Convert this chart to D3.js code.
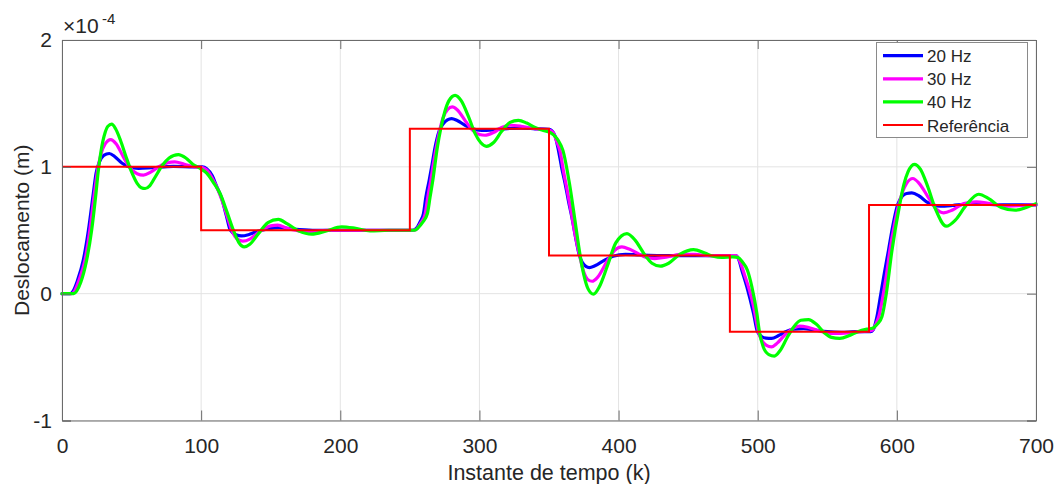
<!DOCTYPE html>
<html>
<head>
<meta charset="utf-8">
<script src="https://cdn.jsdelivr.net/npm/d3@7"></script>
<style>
  html, body { margin: 0; padding: 0; background: #fff; }
  svg { display: block; }
  text { font-family: "Liberation Sans", Arial, Helvetica, sans-serif; fill: #262626; }
</style>
</head>
<body>
<svg id="chart" width="1057" height="484"></svg>
<script>
// ---------------- data ----------------
const xTicks = [0, 100, 200, 300, 400, 500, 600, 700];
const yTicks = [-1, 0, 1, 2];
const seriesNames = ["20 Hz", "30 Hz", "40 Hz", "Referência"];

// reference step signal (k, value x1e-4)
const refK = [0, 100, 250, 350, 480, 580, 700];
const refV = [1, 0.5, 1.3, 0.3, -0.3, 0.7, 0.7];

// 20 Hz response
const hz20 = [
[0,0],[6,0],[8,0.02],[11,0.1],[15.3,0.264],[19,0.5],[22.5,0.79],[24.5,0.95],[27,1.04],[30,1.09],[34,1.105],[38,1.08],[43,1.03],[48,1.0],[55,0.987],[65,0.993],[80,1.004],[95,1.0],
[101,1.0],[104,0.985],[108,0.93],[111,0.85],[114.8,0.75],[118,0.62],[121,0.5],[125,0.465],[129,0.455],[134,0.465],[140,0.49],[148,0.51],[156,0.52],[165,0.51],[180,0.5],[252,0.5],
[255,0.52],[257.5,0.57],[259.8,0.632],[261.5,0.76],[263.9,0.894],[266,1.02],[268.2,1.157],[271,1.28],[274,1.34],[277,1.37],[280,1.38],[284,1.365],[290,1.325],[295,1.3],[301.7,1.288],[310,1.292],[320,1.302],[330,1.305],[340,1.3],[350,1.295],
[352,1.285],[354.5,1.24],[356.8,1.13],[359,1.0],[361.6,0.868],[364,0.73],[366.4,0.605],[369,0.45],[371.9,0.3],[374,0.245],[376.5,0.215],[379,0.206],[383,0.22],[390,0.265],[396,0.295],[405,0.31],[415,0.305],[430,0.3],[484,0.3],
[486,0.28],[488.6,0.185],[492.2,0.054],[497,-0.156],[499.8,-0.3],[503,-0.34],[506,-0.35],[510,-0.353],[515,-0.33],[520,-0.3],[526,-0.28],[533,-0.275],[540,-0.285],[550,-0.3],[560,-0.305],[570,-0.3],[581,-0.3],
[583,-0.285],[585.7,-0.18],[588.5,0],[591,0.16],[594,0.343],[597,0.53],[600.5,0.7],[604,0.77],[607,0.79],[610.8,0.794],[616,0.77],[622,0.72],[626,0.7],[631,0.69],[640,0.695],[650,0.705],[660,0.705],[680,0.7],[700,0.7]
];

// 30 Hz response
const hz30 = [
[0,0],[7,0],[9,0.02],[12,0.1],[16.5,0.264],[20,0.5],[23.3,0.79],[25.5,0.97],[28,1.1],[31,1.18],[35,1.215],[39,1.18],[44,1.08],[49,0.99],[54,0.945],[58.5,0.934],[64,0.96],[71,1.01],[76,1.033],[81,1.039],[88,1.02],[95,1.0],
[101,0.995],[104,0.975],[108,0.91],[112,0.82],[115.5,0.72],[119,0.6],[122,0.5],[126,0.43],[130,0.414],[135,0.43],[142,0.49],[150,0.535],[155,0.54],[162,0.515],[170,0.495],[178,0.49],[190,0.5],[252.5,0.5],
[255,0.51],[258,0.56],[261,0.63],[263,0.77],[265,0.89],[267,1.03],[269,1.157],[271.5,1.29],[274,1.39],[277,1.45],[280.5,1.472],[284,1.45],[290,1.36],[295,1.29],[300,1.255],[304,1.249],[310,1.27],[316,1.31],[322,1.328],[330,1.32],[340,1.3],[350,1.29],
[353,1.27],[355.5,1.2],[358,1.12],[360.5,0.96],[363,0.82],[366,0.64],[368.5,0.48],[372,0.3],[375,0.17],[378,0.11],[381,0.098],[385,0.13],[392,0.26],[397,0.34],[402.4,0.369],[408,0.35],[415,0.31],[420,0.285],[426,0.277],[435,0.29],[445,0.31],[455,0.31],[465,0.3],[484.5,0.3],
[487,0.26],[490.5,0.15],[494,0.03],[497,-0.1],[500.5,-0.3],[503,-0.37],[506,-0.405],[510,-0.419],[514,-0.39],[520,-0.32],[526,-0.27],[530,-0.256],[536,-0.265],[543,-0.29],[550,-0.31],[555,-0.314],[565,-0.31],[578,-0.295],[582,-0.29],
[584.5,-0.25],[587,-0.18],[590,-0.02],[592.5,0.15],[595,0.343],[598,0.53],[601.3,0.7],[604,0.8],[607,0.87],[611.5,0.908],[616,0.87],[622,0.77],[628,0.67],[633.6,0.637],[640,0.66],[648,0.71],[657,0.724],[667,0.71],[680,0.69],[690,0.695],[700,0.7]
];

// 40 Hz response
const hz40 = [
[0,0],[8.5,0],[10.5,0.02],[13.5,0.09],[17.7,0.264],[21.3,0.5],[24.4,0.79],[26,0.96],[28,1.12],[31,1.27],[33,1.32],[35.7,1.336],[38.5,1.3],[42,1.21],[46,1.08],[50,0.96],[54,0.87],[57,0.835],[59.7,0.829],[63,0.85],[67,0.92],[72,1.01],[77,1.07],[83.6,1.097],[89,1.07],[94,1.02],[99,0.99],
[104,0.95],[108.6,0.88],[113.6,0.79],[118.4,0.65],[123.2,0.5],[127,0.405],[131,0.369],[135,0.39],[141,0.47],[148,0.56],[155.5,0.585],[162,0.55],[170,0.495],[179.5,0.469],[190,0.495],[201,0.527],[211,0.515],[221.4,0.495],[235,0.5],[253.5,0.5],
[256,0.52],[259,0.56],[262.6,0.632],[264.5,0.76],[266.5,0.894],[269.8,1.157],[272.2,1.3],[275,1.43],[278,1.52],[282.5,1.564],[287,1.52],[292,1.4],[297,1.26],[301,1.19],[305,1.162],[310,1.19],[316,1.28],[322,1.35],[328,1.367],[334,1.345],[340,1.31],[345,1.29],[351,1.27],
[353.5,1.25],[356.5,1.21],[360,1.13],[364.7,0.868],[368.3,0.605],[372.4,0.3],[375,0.15],[378,0.04],[382,-0.004],[386,0.05],[392,0.22],[398,0.4],[406,0.474],[412,0.42],[418,0.32],[424,0.24],[430,0.217],[436,0.24],[444,0.31],[453.9,0.348],[462,0.32],[468,0.295],[474,0.285],[482,0.29],
[486,0.285],[489,0.25],[492.6,0.185],[495.8,0.054],[499.4,-0.156],[501.2,-0.3],[504,-0.42],[508,-0.48],[512,-0.492],[516,-0.45],[521,-0.35],[526,-0.26],[531,-0.21],[536.5,-0.204],[542,-0.24],[548,-0.31],[553,-0.345],[559,-0.353],[566,-0.33],[572,-0.3],[578.5,-0.28],[583,-0.27],
[586,-0.24],[589.3,-0.18],[592.4,0],[596.5,0.343],[602,0.7],[605,0.86],[608,0.96],[612.5,1.02],[617,0.98],[622,0.85],[628,0.66],[635.5,0.532],[642,0.58],[650,0.7],[658.8,0.784],[666,0.75],[675,0.68],[685,0.658],[693,0.68],[700,0.71]
];

// ---------------- drawing ----------------
const svg = d3.select("#chart");
const L = 62, R = 1036, T = 40, B = 420.5;
const x = d3.scaleLinear().domain([0, 700]).range([L, R]);
const y = d3.scaleLinear().domain([-1, 2]).range([B, T]);
const fmt = d => String(d);

// grid
const grid = svg.append("g");
grid.selectAll("line.gx").data(xTicks).enter().append("line")
  .attr("x1", d => x(d)).attr("x2", d => x(d)).attr("y1", T).attr("y2", B)
  .attr("stroke", "#e3e3e3").attr("stroke-width", 1);
grid.selectAll("line.gy").data(yTicks).enter().append("line")
  .attr("x1", L).attr("x2", R).attr("y1", d => y(d)).attr("y2", d => y(d))
  .attr("stroke", "#e3e3e3").attr("stroke-width", 1);

// lines
const line = d3.line().x(d => x(d[0])).y(d => y(d[1])).curve(d3.curveMonotoneX);
const series = [
  { name: seriesNames[0], data: hz20, color: "#0000ff", w: 3.2 },
  { name: seriesNames[1], data: hz30, color: "#ff00ff", w: 3.2 },
  { name: seriesNames[2], data: hz40, color: "#00ff00", w: 3.2 }
];
const plot = svg.append("g");
series.forEach(s => {
  plot.append("path").datum(s.data).attr("d", line)
    .attr("fill", "none").attr("stroke", s.color).attr("stroke-width", s.w)
    .attr("stroke-linejoin", "round").attr("stroke-linecap", "round");
});
const refData = refK.map((k, i) => [k, refV[i]]);
const refLine = d3.line().x(d => x(d[0])).y(d => y(d[1])).curve(d3.curveStepAfter);
plot.append("path").datum(refData).attr("d", refLine)
  .attr("fill", "none").attr("stroke", "#ff0000").attr("stroke-width", 2);

// axes (box with inward ticks)
const axisColor = "#6b6b6b";
const axB = svg.append("g").attr("transform", `translate(0,${B})`)
  .call(d3.axisBottom(x).tickValues(xTicks).tickSize(-10).tickPadding(17.5).tickFormat(fmt));
const axT = svg.append("g").attr("transform", `translate(0,${T})`)
  .call(d3.axisTop(x).tickValues(xTicks).tickSize(-9).tickFormat(""));
const axL = svg.append("g").attr("transform", `translate(${L},0)`)
  .call(d3.axisLeft(y).tickValues(yTicks).tickSize(-9).tickPadding(10).tickFormat(fmt));
const axR = svg.append("g").attr("transform", `translate(${R},0)`)
  .call(d3.axisRight(y).tickValues(yTicks).tickSize(-9).tickFormat(""));
[axB, axT, axL, axR].forEach(a => {
  a.select(".domain").attr("stroke", axisColor).attr("stroke-width", 1);
  a.selectAll(".tick line").attr("stroke", axisColor);
  a.selectAll(".tick text").attr("fill", "#262626")
    .style("font-family", '"Liberation Sans", Arial, sans-serif').style("font-size", "21px");
});

// exponent label
const expo = svg.append("text").attr("x", 63).attr("y", 33).style("font-size", "21px");
expo.append("tspan").text("×10");
expo.append("tspan").attr("x", 102).attr("y", 24).style("font-size", "15px").text("-4");

// axis titles
svg.append("text").attr("x", (L + R) / 2).attr("y", 480).attr("text-anchor", "middle")
  .style("font-size", "21.5px").text("Instante de tempo (k)");
svg.append("text").attr("transform", `translate(29,${(T + B) / 2}) rotate(-90)`)
  .attr("text-anchor", "middle").style("font-size", "21px").text("Deslocamento (m)");

// legend
const lg = svg.append("g");
lg.append("rect").attr("x", 876.5).attr("y", 42.5).attr("width", 151).attr("height", 95)
  .attr("fill", "#fff").attr("stroke", "#8a8a8a").attr("stroke-width", 1);
const legItems = [
  { name: seriesNames[0], color: "#0000ff", w: 3.2 },
  { name: seriesNames[1], color: "#ff00ff", w: 3.2 },
  { name: seriesNames[2], color: "#00ff00", w: 3.2 },
  { name: seriesNames[3], color: "#ff0000", w: 2 }
];
legItems.forEach((it, i) => {
  const yy = 55.7 + i * 23.1;
  lg.append("line").attr("x1", 883).attr("x2", 923).attr("y1", yy).attr("y2", yy)
    .attr("stroke", it.color).attr("stroke-width", it.w);
  lg.append("text").attr("x", 927).attr("y", yy + 6.5).style("font-size", "17px").text(it.name);
});
</script>
</body>
</html>
